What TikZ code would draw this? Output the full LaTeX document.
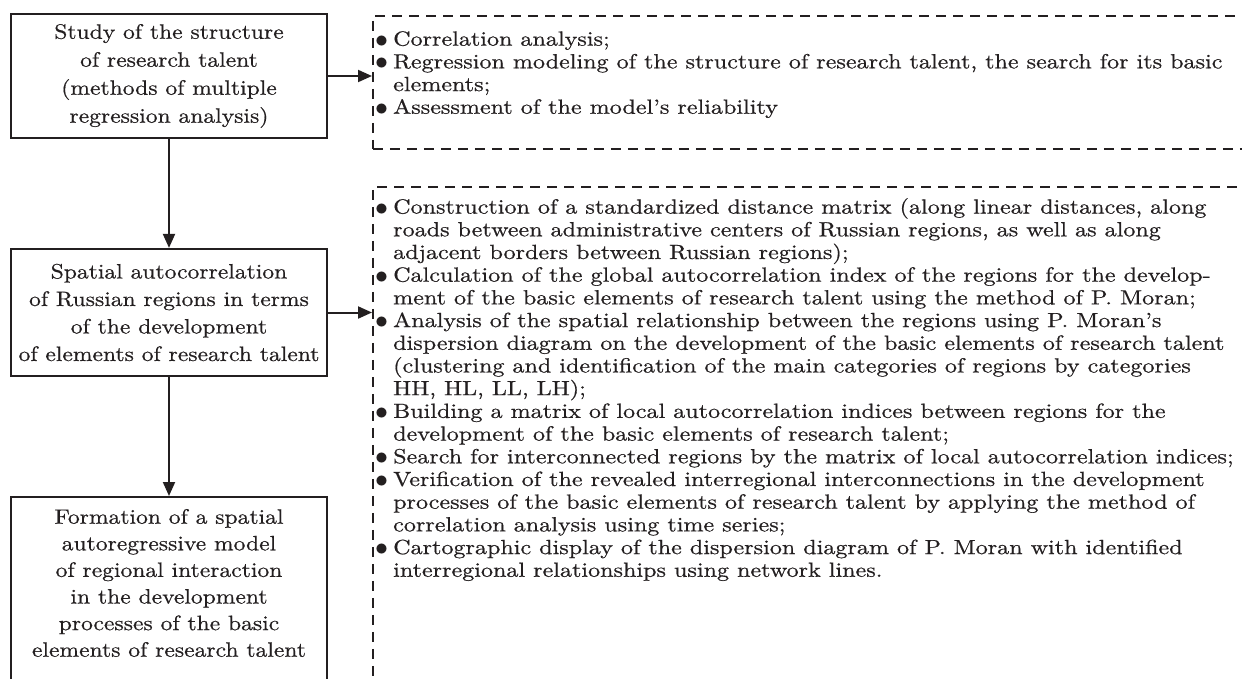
\documentclass[tikz,border=0pt]{standalone}
\usepackage{fontspec}
\setmainfont{lmroman10-regular.otf}[FakeStretch=1.133,FakeBold=0.6]
\newfontfamily\listfont{lmroman10-regular.otf}[FakeStretch=1.175,FakeBold=0.6]
\usetikzlibrary{arrows.meta}
\definecolor{ink}{RGB}{35,31,32}
\begin{document}
\begin{tikzpicture}[x=1pt,y=-1pt,
  solidbox/.style={draw=ink, line width=2.2pt, minimum width=316pt, inner sep=0pt},
  boxtext/.style={align=center, inner sep=0pt, text=ink, font=\fontsize{20.8}{28}\selectfont},
  dashbox/.style={draw=ink, dash pattern=on 10pt off 7pt, line width=1.8pt, inner sep=0pt, minimum width=900pt},
  arr/.style={draw=ink, line width=2pt, -{Triangle[length=14pt,width=12pt]}},
  listtext/.style={align=left, inner sep=0pt, anchor=north west, text=ink, font=\listfont\fontsize{20.5}{22.7}\selectfont}]
\useasboundingbox (0,0) rectangle (1242,678);
\clip (0,0) rectangle (1242,678);
\newcommand{\itm}{\llap{\smash{\raisebox{-1.5pt}{\scalebox{1.25}{$\bullet$}}}\hspace{5pt}}}
% left boxes
\node[solidbox, minimum height=124pt] (b1) at (169,76) {};
\node[boxtext] (b1t) at (b1.center) {Study of the structure\\of research talent\\(methods of multiple\\regression analysis)};
\node[solidbox, minimum height=127pt] (b2) at (169,312.5) {};
\node[boxtext, font=\fontsize{20.8}{27.5}\selectfont] (b2t) at (b2.center) {Spatial autocorrelation\\of Russian regions in terms\\of the development\\of elements of research talent};
\node[solidbox, anchor=north, minimum height=230pt] (b3) at (169,496) {};
\node[boxtext, font=\fontsize{20.8}{26.6}\selectfont] (b3t) at (169,583) {Formation of a spatial\\autoregressive model\\of regional interaction\\in the development\\processes of the basic\\elements of research talent};
% dashed boxes
\node[dashbox, anchor=north west, minimum height=133pt] (d1) at (372,15) {};
\node[dashbox, anchor=north west, minimum height=560pt] (d2) at (372,186) {};
\node[listtext] (l1) at (393,31) {%
\itm Correlation analysis;\\
\itm Regression modeling of the structure of research talent, the search for its basic\\
elements;\\
\itm Assessment of the model’s reliability};
\node[listtext] (l2) at (393,198) {%
\itm Construction of a standardized distance matrix (along linear distances, along\\
roads between administrative centers of Russian regions, as well as along\\
adjacent borders between Russian regions);\\
\itm Calculation of the global autocorrelation index of the regions for the develop-\\
ment of the basic elements of research talent using the method of P. Moran;\\
\itm Analysis of the spatial relationship between the regions using P. Moran’s\\
dispersion diagram on the development of the basic elements of research talent\\
(clustering and identification of the main categories of regions by categories\\
HH, HL, LL, LH);\\
\itm Building a matrix of local autocorrelation indices between regions for the\\
development of the basic elements of research talent;\\
\itm Search for interconnected regions by the matrix of local autocorrelation indices;\\
\itm Verification of the revealed interregional interconnections in the development\\
processes of the basic elements of research talent by applying the method of\\
correlation analysis using time series;\\
\itm Cartographic display of the dispersion diagram of P. Moran with identified\\
interregional relationships using network lines.};
% connectors
\draw[arr] (b1) -- (b2);
\draw[arr] (b2) -- (b3);
\draw[arr] (b1.east) -- (b1.east -| d1.west);
\draw[arr] (b2.east) -- (b2.east -| d2.west);
\end{tikzpicture}
\end{document}
